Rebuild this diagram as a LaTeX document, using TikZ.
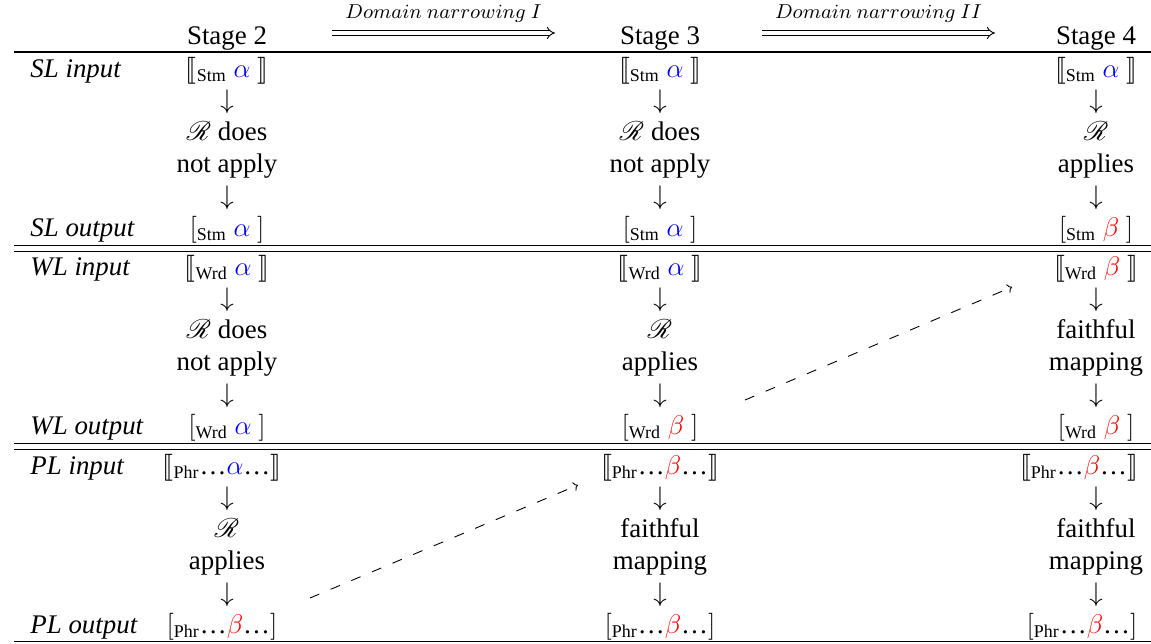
\documentclass[tikz,border=0pt]{standalone}
\usepackage{fontspec}
\setmainfont{Liberation Serif}
\usepackage{amsmath}
\usepackage{stmaryrd}
\usepackage{mathrsfs}
\usetikzlibrary{arrows.meta}

\tikzstyle{cell}    = [inner sep=0pt, anchor=base
                      , font=\fontsize{12}{14}\selectfont]
\tikzstyle{rowname} = [cell, anchor=base west
                      , font=\fontsize{12}{14}\selectfont\itshape]
\tikzstyle{rule}    = [line width=0.45pt]
\tikzstyle{narrow}  = [double, double distance=1.5pt, line width=0.4pt, -{Implies}]
\tikzstyle{leak}    = [line width=0.4pt, dash pattern=on 4.5pt off 5.5pt, -{To[length=2pt]}]

\newcommand{\blueA}{{\color{blue}\alpha}}
\newcommand{\redB}{{\color{red}\beta}}
\newcommand{\dotsx}{\text{\textellipsis}}
\newcommand{\inbr}[2]{$\llbracket_{\text{#1}}\ #2\ \rrbracket$}
\newcommand{\outbr}[2]{$[_{\text{#1}}\ #2\ ]$}
\newcommand{\phrin}[1]{$\llbracket_{\text{Phr}}\dotsx#1\dotsx\rrbracket$}
\newcommand{\phrout}[1]{$[_{\text{Phr}}\dotsx#1\dotsx]$}

\begin{document}
\begin{tikzpicture}[x=0.4464pt, y=-0.4464pt]
\useasboundingbox (0,0) rectangle (1151,643);

%% Header
\node [cell] (Stage2-Head) at (227,44) {Stage 2};
\node [cell] (Stage3-Head) at (660,44) {Stage 3};
\node [cell] (Stage4-Head) at (1096,44) {Stage 4};

\coordinate (Narrow1-From) at (332,33);
\coordinate (Narrow1-To)   at (555,33);
\coordinate (Narrow2-From) at (762,33);
\coordinate (Narrow2-To)   at (995,33);
\draw [narrow] (Narrow1-From) -- node [above=1pt, font=\small] (Narrow1-Label) {$Domain\ narrowing\ I$} (Narrow1-To);
\draw [narrow] (Narrow2-From) -- node [above=1pt, font=\small] (Narrow2-Label) {$Domain\ narrowing\ II$} (Narrow2-To);

%% Rules
\draw [rule] (14,52) -- (1151,52);
\draw [rule] (14,245) -- (1151,245);
\draw [rule] (14,251) -- (1151,251);
\draw [rule] (14,443) -- (1151,443);
\draw [rule] (14,449) -- (1151,449);
\draw [rule] (14,641) -- (1151,641);

%% Row names
\node [rowname] (SL-Input)  at (30,77)  {SL input};
\node [rowname] (SL-Output) at (30,236) {SL output};
\node [rowname] (WL-Input)  at (30,275) {WL input};
\node [rowname] (WL-Output) at (30,434) {WL output};
\node [rowname] (PL-Input)  at (30,474) {PL input};
\node [rowname] (PL-Output) at (30,633) {PL output};

%% SL rows
\foreach \t [count=\i from 0] in {{\inbr{Stm}{\blueA}}, {$\downarrow$}, {$\mathscr{R}$ does}, {not apply}, {$\downarrow$}, {\outbr{Stm}{\blueA}}}
  \node [cell] (Stage2-SL-\i) at (227,77+31.8*\i) {\t};
\foreach \t [count=\i from 0] in {{\inbr{Stm}{\blueA}}, {$\downarrow$}, {$\mathscr{R}$ does}, {not apply}, {$\downarrow$}, {\outbr{Stm}{\blueA}}}
  \node [cell] (Stage3-SL-\i) at (660,77+31.8*\i) {\t};
\foreach \t [count=\i from 0] in {{\inbr{Stm}{\blueA}}, {$\downarrow$}, {$\mathscr{R}$}, {applies}, {$\downarrow$}, {\outbr{Stm}{\redB}}}
  \node [cell] (Stage4-SL-\i) at (1096,77+31.8*\i) {\t};

%% WL rows
\foreach \t [count=\i from 0] in {{\inbr{Wrd}{\blueA}}, {$\downarrow$}, {$\mathscr{R}$ does}, {not apply}, {$\downarrow$}, {\outbr{Wrd}{\blueA}}}
  \node [cell] (Stage2-WL-\i) at (227,275+31.8*\i) {\t};
\foreach \t [count=\i from 0] in {{\inbr{Wrd}{\blueA}}, {$\downarrow$}, {$\mathscr{R}$}, {applies}, {$\downarrow$}, {\outbr{Wrd}{\redB}}}
  \node [cell] (Stage3-WL-\i) at (660,275+31.8*\i) {\t};
\foreach \t [count=\i from 0] in {{\inbr{Wrd}{\redB}}, {$\downarrow$}, {faithful}, {mapping}, {$\downarrow$}, {\outbr{Wrd}{\redB}}}
  \node [cell] (Stage4-WL-\i) at (1096,275+31.8*\i) {\t};

%% PL rows
\node [cell] (Stage2-PL-0) at (222,474)   {\phrin{\blueA}};
\node [cell] (Stage2-PL-1) at (227,505.8) {$\downarrow$};
\node [cell] (Stage2-PL-2) at (227,537.6) {$\mathscr{R}$};
\node [cell] (Stage2-PL-3) at (227,569.4) {applies};
\node [cell] (Stage2-PL-4) at (227,601.2) {$\downarrow$};
\node [cell] (Stage2-PL-5) at (222,633)   {\phrout{\redB}};
\foreach \t [count=\i from 0] in {{\phrin{\redB}}, {$\downarrow$}, {faithful}, {mapping}, {$\downarrow$}, {\phrout{\redB}}}
  \node [cell] (Stage3-PL-\i) at (660,474+31.8*\i) {\t};
\node [cell] (Stage4-PL-0) at (1079,474)   {\phrin{\redB}};
\node [cell] (Stage4-PL-1) at (1096,505.8) {$\downarrow$};
\node [cell] (Stage4-PL-2) at (1096,537.6) {faithful};
\node [cell] (Stage4-PL-3) at (1096,569.4) {mapping};
\node [cell] (Stage4-PL-4) at (1096,601.2) {$\downarrow$};
\node [cell] (Stage4-PL-5) at (1082,633)   {\phrout{\redB}};

%% Leaks into the next stage
\coordinate (PL-Leak-From) at (310,598);
\coordinate (PL-Leak-To)   at (578,485);
\coordinate (WL-Leak-From) at (745,400);
\coordinate (WL-Leak-To)   at (1012,287);
\draw [leak] (PL-Leak-From) -- (PL-Leak-To);
\draw [leak] (WL-Leak-From) -- (WL-Leak-To);

\end{tikzpicture}
\end{document}
